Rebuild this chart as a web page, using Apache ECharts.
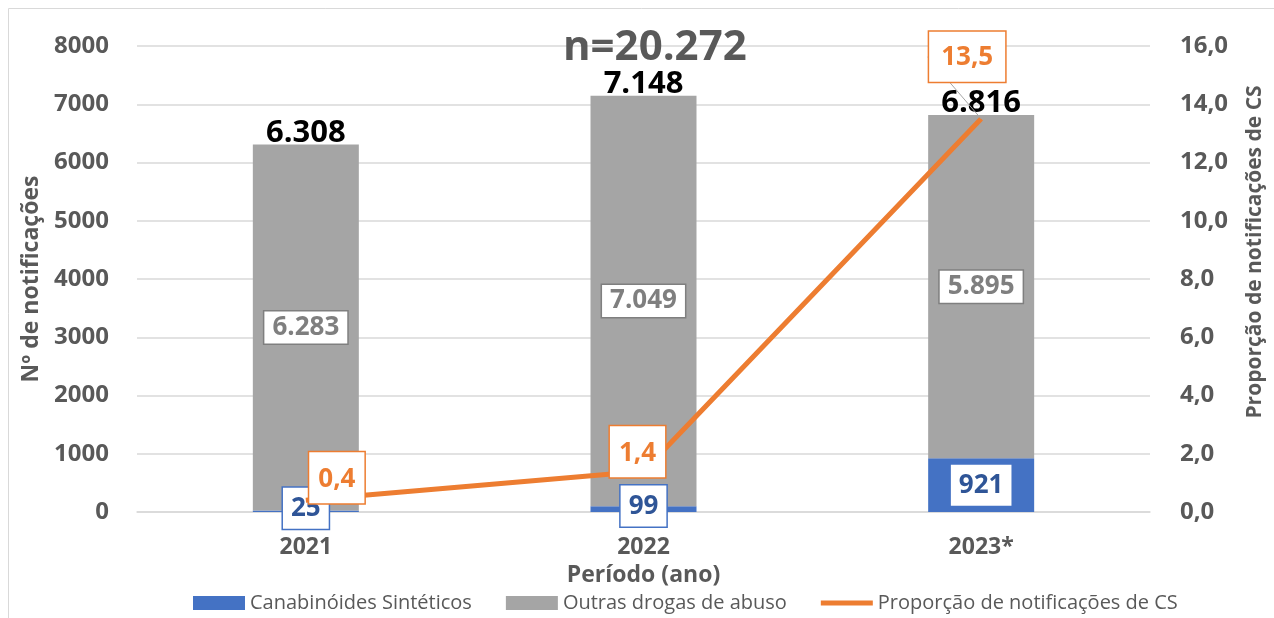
<!DOCTYPE html>
<html><head><meta charset="utf-8">
<script src="https://cdn.jsdelivr.net/npm/echarts@6/dist/echarts.min.js"></script>
<style>html,body{margin:0;padding:0;background:#fff}#c{width:1274px;height:618px}</style>
</head><body><div id="c"></div>
<script>
var categories = ['2021', '2022', '2023*'];
var canabinoides = [25, 99, 921];
var outras = [6283, 7049, 5895];
var totais = [6308, 7148, 6816];
var proporcao = [0.4, 1.4, 13.5];
var nTotal = 'n=20.272';

var FONT = '"Open Sans", "Noto Sans", sans-serif';
var GREY = '#595959';
function fmtThousands(v){ return String(v).replace(/\B(?=(\d{3})+(?!\d))/g, '.'); }
function fmtDec(v){ return Number(v).toFixed(1).replace('.', ','); }

var chart = echarts.init(document.getElementById('c'), null, {renderer:'canvas'});
chart.setOption({
  animation: false,
  textStyle: {fontFamily: FONT},
  title: {text: nTotal, left: 558, top: 22, textStyle: {fontFamily: FONT, fontSize: 42, fontWeight: 'bold', color: GREY}},
  graphic: [{type:'rect', shape:{x:8.5, y:8.5, width:1300, height:700}, style:{fill:'none', stroke:'#d9d9d9', lineWidth:1}, silent:true}],
  grid: {left: 137, right: 119, top: 46, bottom: 106},
  legend: {
    bottom: 0, left: 188, itemGap: 34, itemWidth: 52, itemHeight: 14,
    textStyle: {fontFamily: FONT, fontSize: 20, color: GREY},
    data: [
      {name:'Canabinóides Sintéticos', icon:'rect'},
      {name:'Outras drogas de abuso', icon:'rect'},
      {name:'Proporção de notificações de CS', icon:'path://M0,0 M0,4.5 L52,4.5 L52,9.5 L0,9.5 Z M52,14'}
    ]
  },
  xAxis: {
    type: 'category', data: categories,
    axisLine: {lineStyle: {color: '#d9d9d9', width: 1.5}}, axisTick: {show: false},
    axisLabel: {fontFamily: FONT, fontSize: 23, fontWeight: 'bold', color: GREY, margin: 24},
    name: 'Período (ano)', nameLocation: 'middle', nameGap: 50,
    nameTextStyle: {fontFamily: FONT, fontSize: 23, fontWeight: 'bold', color: GREY}
  },
  yAxis: [{
    type: 'value', min: 0, max: 8000, interval: 1000,
    axisLabel: {fontFamily: FONT, fontSize: 24, fontWeight: 'bold', color: GREY, margin: 28, formatter: function(v){ return String(v); }},
    splitLine: {lineStyle: {color: '#d9d9d9', width: 1.5}},
    name: 'Nº de notificações', nameLocation: 'middle', nameGap: 94, nameRotate: 90,
    nameTextStyle: {fontFamily: FONT, fontSize: 23, fontWeight: 'bold', color: GREY}
  }, {
    type: 'value', min: 0, max: 16, interval: 2, position: 'right',
    axisLabel: {fontFamily: FONT, fontSize: 24, fontWeight: 'bold', color: GREY, margin: 30, formatter: fmtDec},
    splitLine: {show: false},
    name: 'Proporção de notificações de CS', nameLocation: 'middle', nameGap: 95, nameRotate: 90,
    nameTextStyle: {fontFamily: FONT, fontSize: 21, fontWeight: 'bold', color: GREY, padding: [0, 0, 0, 54]}
  }],
  series: [{
    name: 'Canabinóides Sintéticos', type: 'bar', stack: 'a', barWidth: 106,
    itemStyle: {color: '#4472C4'},
    data: canabinoides.map(function(v, i){
      return {value: v, label: i < 2 ? {borderColor: '#4472C4', borderWidth: 1.5, offset: [0, -3]} : {}};
    }),
    label: {show: true, position: 'inside', formatter: function(p){ return fmtThousands(p.value); },
      fontFamily: FONT, fontSize: 26, fontWeight: 'bold', color: '#2F5597', backgroundColor: '#fff',
      padding: [9, 8, 6, 8]}
  }, {
    name: 'Outras drogas de abuso', type: 'bar', stack: 'a', barWidth: 106,
    itemStyle: {color: '#A5A5A5'},
    data: outras,
    label: {show: true, position: 'inside', formatter: function(p){ return fmtThousands(p.value); },
      fontFamily: FONT, fontSize: 26, fontWeight: 'bold', color: '#7F7F7F', backgroundColor: '#fff',
      borderColor: '#7F7F7F', borderWidth: 1.5, padding: [4, 8, 2, 8]}
  }, {
    name: 'Total', type: 'scatter', symbolSize: 0, data: totais, z: 5,
    itemStyle: {opacity: 1},
    label: {show: true, position: 'top', distance: -4, formatter: function(p){ return fmtThousands(p.value); },
      fontFamily: FONT, fontSize: 31, fontWeight: 'bold', color: '#000'}
  }, {
    name: 'Proporção de notificações de CS', type: 'line', yAxisIndex: 1, data: proporcao,
    symbol: 'none', z: 10,
    lineStyle: {color: '#ED7D31', width: 5}, itemStyle: {color: '#ED7D31'}
  }, {
    name: 'Proporção rótulos', type: 'scatter', yAxisIndex: 1, symbolSize: 0, z: 11,
    itemStyle: {color: '#ED7D31', opacity: 1},
    data: proporcao.map(function(v, i){
      var pads = [[14, 9, 11, 9], [14, 9, 11, 9], [13, 12, 11, 12]];
      return {value: v, label: {padding: pads[i]},
        labelLine: {show: i === 2, lineStyle: {color: '#A5A5A5', width: 1}}};
    }),
    labelLayout: function(p){
      var moves = [[31, 3], [-6, 6], [-14, -37]];
      return {dx: moves[p.dataIndex][0], dy: moves[p.dataIndex][1]};
    },
    label: {show: true, position: 'top', distance: 0, formatter: function(p){ return fmtDec(p.value); },
      fontFamily: FONT, fontSize: 26, fontWeight: 'bold', color: '#ED7D31', backgroundColor: '#fff',
      borderColor: '#ED7D31', borderWidth: 1.5}
  }]
});
</script></body></html>
